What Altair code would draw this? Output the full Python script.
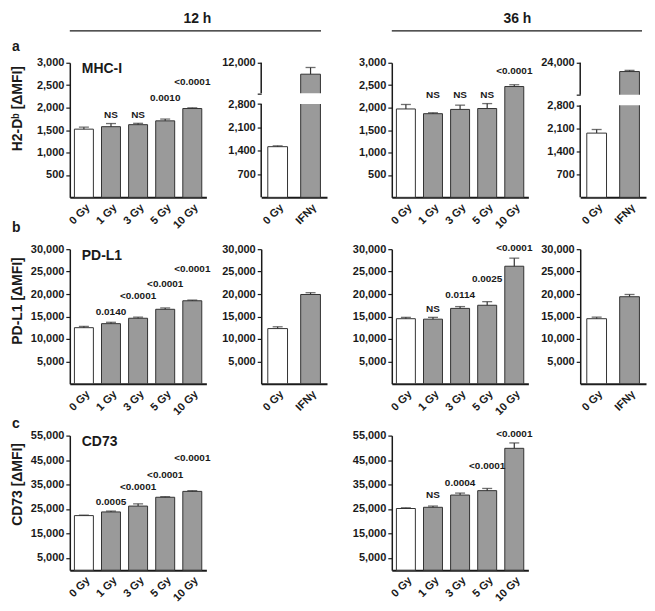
import altair as alt
import pandas as pd

DOSES = ["0 Gy", "1 Gy", "3 Gy", "5 Gy", "10 Gy"]
IFN_CATS = ["0 Gy", "IFNγ"]

# ---- a: MHC-I (H2-Db) ----
mhc12_mean = [1520, 1575, 1620, 1705, 1980]
mhc12_err = [45, 70, 30, 40, 15]
mhc12_p = ["", "NS", "NS", "0.0010", "<0.0001"]
mhc12_py = [None, 1846, 1846, 2217, 2568]

mhc36_mean = [1970, 1865, 1960, 1980, 2470]
mhc36_err = [100, 20, 95, 110, 40]
mhc36_p = ["", "NS", "NS", "NS", "<0.0001"]
mhc36_py = [None, 2284, 2284, 2284, 2808]

mhc12_ifn_mean = [1520, 11250]
mhc12_ifn_err = [25, 440]
mhc36_ifn_mean = [1950, 22900]
mhc36_ifn_err = [110, 150]

# ---- b: PD-L1 ----
pdl12_mean = [12500, 13400, 14600, 16600, 18500]
pdl12_err = [300, 300, 250, 300, 150]
pdl12_p = ["", "0.0140", "<0.0001", "<0.0001", "<0.0001"]
pdl12_py = [None, 16050, 19650, 22240, 25540]

pdl36_mean = [14500, 14400, 16800, 17500, 26200]
pdl36_err = [300, 400, 400, 800, 1800]
pdl36_p = ["", "NS", "0.0114", "0.0025", "<0.0001"]
pdl36_py = [None, 16740, 19720, 23410, 30150]

pdl12_ifn_mean = [12300, 19900]
pdl12_ifn_err = [400, 400]
pdl36_ifn_mean = [14500, 19400]
pdl36_ifn_err = [350, 500]

# ---- c: CD73 ----
cd12_mean = [22300, 23800, 26200, 29800, 32200]
cd12_err = [200, 350, 900, 250, 300]
cd12_p = ["", "0.0005", "<0.0001", "<0.0001", "<0.0001"]
cd12_py = [None, 27680, 34080, 39000, 45680]

cd36_mean = [25200, 25700, 30700, 32500, 49800]
cd36_err = [300, 500, 800, 900, 2200]
cd36_p = ["", "NS", "0.0004", "<0.0001", "<0.0001"]
cd36_py = [None, 30720, 35640, 42440, 55800]

# axis ticks
mhc_ticks = [500, 1000, 1500, 2000, 2500, 3000]
pdl_ticks = [5000, 10000, 15000, 20000, 25000, 30000]
cd_ticks = [5000, 15000, 25000, 35000, 45000, 55000]
mhc12_ifn_ticks = [700, 1400, 2100, 2800, 10000, 12000]
mhc36_ifn_ticks = [700, 1400, 2100, 2800, 20000, 24000]
ifn_ticks_b = [5000, 10000, 15000, 20000, 25000, 30000]

FONT = "Liberation Sans"
H = 135
DOSE_W = 137
IFN_W = 66
COL1_W = 140
COL2_W = 79
GRAY = "#9a9a9a"
INK = "#1a1a1a"
ONE = pd.DataFrame({"k": [0]})

fill_scale = alt.Scale(domain=["ctrl", "trt"], range=["white", GRAY])


def x_axis():
    return alt.Axis(labelAngle=-45, ticks=False, domainWidth=2, domainColor=INK,
                    labelPadding=4, title=None, labelFontSize=11)


def y_axis(values, domain=True, blank=None):
    expr = "format(datum.value, ',')"
    if blank is not None:
        expr = f"datum.value == {blank} ? '' : format(datum.value, ',')"
    return alt.Axis(values=values, tickCount=len(values) + 10, labelExpr=expr,
                    labelOverlap=False, tickSize=4, tickWidth=1.2, tickColor=INK,
                    labelPadding=2, domain=domain, domainWidth=1.5, domainColor=INK,
                    title=None, grid=False)


def bar_layers(df, cats, xscale, yscale, yaxis):
    base = alt.Chart(df).encode(
        x=alt.X("cat:N", sort=cats, scale=xscale, axis=x_axis()))
    bars = base.mark_bar(stroke="#333333", strokeWidth=1).encode(
        y=alt.Y("mean:Q", scale=yscale, axis=yaxis),
        fill=alt.Fill("grp:N", scale=fill_scale, legend=None))
    err = base.mark_rule(color="#333333", strokeWidth=1.2).encode(
        y="mean:Q", y2="top:Q")
    cap = base.mark_tick(color="#333333", thickness=1.3, size=10, orient="horizontal").encode(
        y="top:Q")
    return [bars, err, cap]


def dose_panel(means, errs, plabels, py, ymax, ticks, plot_w, total_w,
               title=None, ytitle=None, ytitle_y=None, letter=None, letter_y=None,
               header=None):
    df = pd.DataFrame({
        "cat": DOSES, "mean": means, "err": errs,
        "top": [m + e for m, e in zip(means, errs)],
        "p": plabels, "py": py,
        "grp": ["ctrl"] + ["trt"] * 4,
    })
    xscale = alt.Scale(range=[0, plot_w], paddingInner=0.3, paddingOuter=0.17)
    yscale = alt.Scale(domain=[0, ymax], nice=False, zero=True)
    layers = bar_layers(df, DOSES, xscale, yscale, y_axis(ticks))
    ptxt = alt.Chart(df).mark_text(font=FONT, fontWeight="bold", fontSize=10,
                                   color=INK, baseline="middle").encode(
        x=alt.X("cat:N", sort=DOSES), y=alt.Y("py:Q"), text="p:N")
    layers.append(ptxt)
    if title:
        layers.append(alt.Chart(ONE).mark_text(
            text=title, font=FONT, fontWeight="bold", fontSize=14, color=INK,
            align="left", baseline="middle").encode(x=alt.value(12), y=alt.value(6.5)))
    if ytitle:
        layers.append(alt.Chart(ONE).mark_text(
            text=ytitle, font=FONT, fontWeight="bold", fontSize=14, color=INK,
            angle=270, align="center", baseline="middle").encode(
            x=alt.value(-52), y=alt.value(ytitle_y)))
    if letter:
        layers.append(alt.Chart(ONE).mark_text(
            text=letter, font=FONT, fontWeight="bold", fontSize=14, color=INK,
            align="left", baseline="alphabetic").encode(
            x=alt.value(-58), y=alt.value(letter_y)))
    if header:
        htxt, hx, hlen = header
        layers.append(alt.Chart(ONE).mark_text(
            text=htxt, font=FONT, fontWeight="bold", fontSize=14, color=INK,
            align="center", baseline="middle").encode(x=alt.value(hx), y=alt.value(-44)))
        layers.append(alt.Chart(ONE).mark_rule(color=INK, strokeWidth=1.3).encode(
            x=alt.value(0), x2=alt.value(hlen), y=alt.value(-32)))
    return alt.layer(*layers).properties(width=total_w, height=H)


def ifn_panel(means, errs, ticks, plot_w, total_w, piece=None):
    df = pd.DataFrame({
        "cat": IFN_CATS, "mean": means, "err": errs,
        "top": [m + e for m, e in zip(means, errs)],
        "grp": ["ctrl", "trt"],
    })
    xscale = alt.Scale(range=[0, plot_w], paddingInner=0.4, paddingOuter=0.2)
    if piece is None:
        yscale = alt.Scale(domain=[0, max(ticks)], nice=False, zero=True)
        layers = bar_layers(df, IFN_CATS, xscale, yscale, y_axis(ticks))
    else:
        dom, rng = piece
        yscale = alt.Scale(domain=dom, range=rng, nice=False, zero=False)
        yaxis = y_axis(ticks, domain=False, blank=dom[2])
        layers = bar_layers(df, IFN_CATS, xscale, yscale, yaxis)
        layers.append(alt.Chart(ONE).mark_rect(color="white").encode(
            x=alt.value(0.8), x2=alt.value(plot_w + 1),
            y=alt.datum(dom[1]), y2=alt.datum(dom[2])))
        layers.append(alt.Chart(ONE).mark_rule(color=INK, strokeWidth=1.5).encode(
            x=alt.value(0), y=alt.datum(dom[0]), y2=alt.datum(dom[1])))
        layers.append(alt.Chart(ONE).mark_rule(color=INK, strokeWidth=1.5).encode(
            x=alt.value(0), y=alt.datum(dom[2]), y2=alt.datum(dom[3])))
    return alt.layer(*layers).properties(width=total_w, height=H)


a1 = dose_panel(mhc12_mean, mhc12_err, mhc12_p, mhc12_py, 3000, mhc_ticks, DOSE_W, COL1_W,
                title="MHC-I", ytitle="H2-Dᵇ [ΔMFI]", ytitle_y=46, letter="a", letter_y=-12,
                header=("12 h", 128, 252))
a2 = ifn_panel(mhc12_ifn_mean, mhc12_ifn_err, mhc12_ifn_ticks, IFN_W, COL2_W,
               piece=([0, 2800, 10000, 12000], [H, 41.4, 30.6, 0]))
a3 = dose_panel(mhc36_mean, mhc36_err, mhc36_p, mhc36_py, 3000, mhc_ticks, DOSE_W, DOSE_W,
                header=("36 h", 126, 251))
a4 = ifn_panel(mhc36_ifn_mean, mhc36_ifn_err, mhc36_ifn_ticks, IFN_W, IFN_W,
               piece=([0, 2800, 20000, 24000], [H, 42.5, 32.1, 0]))

b1 = dose_panel(pdl12_mean, pdl12_err, pdl12_p, pdl12_py, 30000, pdl_ticks, DOSE_W, COL1_W,
                title="PD-L1", ytitle="PD-L1 [ΔMFI]", ytitle_y=52, letter="b", letter_y=-17)
b2 = ifn_panel(pdl12_ifn_mean, pdl12_ifn_err, ifn_ticks_b, IFN_W, COL2_W)
b3 = dose_panel(pdl36_mean, pdl36_err, pdl36_p, pdl36_py, 30000, pdl_ticks, DOSE_W, DOSE_W)
b4 = ifn_panel(pdl36_ifn_mean, pdl36_ifn_err, ifn_ticks_b, IFN_W, IFN_W)

c1 = dose_panel(cd12_mean, cd12_err, cd12_p, cd12_py, 55000, cd_ticks, DOSE_W, COL1_W,
                title="CD73", ytitle="CD73 [ΔMFI]", ytitle_y=49, letter="c", letter_y=-8)
spacer = alt.Chart(ONE).mark_point(opacity=0).encode(
    x=alt.value(0), y=alt.value(0)).properties(width=COL2_W, height=H)
c3 = dose_panel(cd36_mean, cd36_err, cd36_p, cd36_py, 55000, cd_ticks, DOSE_W, DOSE_W)

chart = alt.concat(a1, a2, a3, a4, b1, b2, b3, b4, c1, spacer, c3,
                   columns=4, spacing=52, bounds="flush").properties(
    padding={"left": 3, "top": 3, "right": 0, "bottom": 0}
).configure(font=FONT).configure_view(stroke=None).configure_axis(
    labelFont=FONT, labelFontWeight="bold", labelFontSize=11, labelColor=INK, grid=False
)

chart.save("out.html", embed_options={"renderer": "svg", "actions": False})
